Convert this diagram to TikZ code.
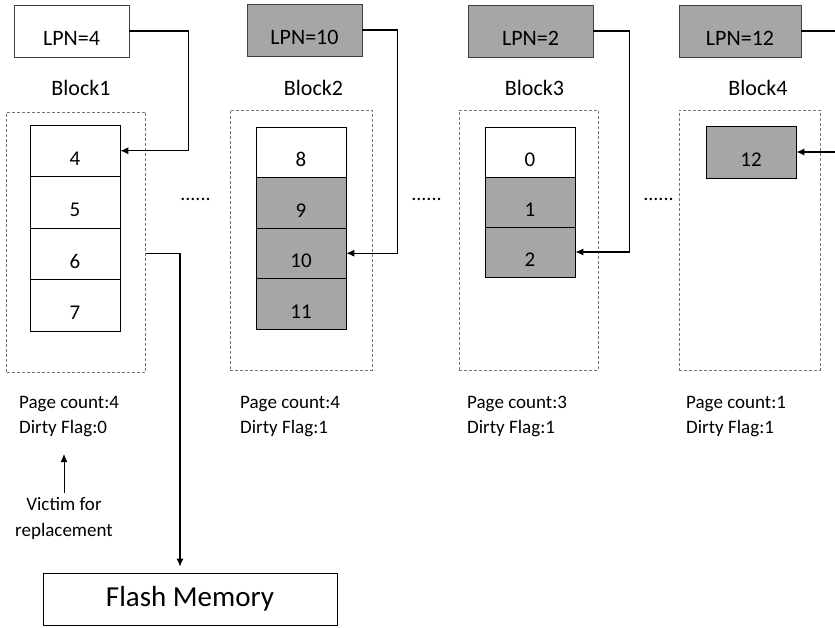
\documentclass[tikz,border=0pt]{standalone}
\usepackage{fontspec}
\setmainfont{Carlito}
\usetikzlibrary{arrows.meta,positioning}
\definecolor{cellgray}{RGB}{166,166,166}
\tikzset{
	lpnbox/.style={draw=black!75,line width=0.8pt,minimum height=52pt,inner sep=0pt,
		font=\fontsize{22}{26}\selectfont,text height=28pt,text depth=0pt},
	frame/.style={draw=black!55,dashed,dash pattern=on 3pt off 2pt,line width=0.8pt,
		minimum width=139pt,minimum height=260pt,inner sep=0pt},
	cell/.style={draw,line width=0.8pt,minimum width=90pt,inner sep=0pt,
		font=\fontsize{21}{25}\selectfont,text height=29pt,text depth=0pt},
	blklabel/.style={font=\fontsize{22}{26}\selectfont,anchor=base,inner sep=0pt},
	info/.style={font=\fontsize{19}{25}\selectfont,align=left,anchor=north west,inner sep=0pt},
	link/.style={->,line width=1.1pt}
}
\begin{document}
\begin{tikzpicture}[>={Latex[length=8pt,width=7pt]},x=1pt,y=-1pt]
	\clip (0,0) rectangle (835,627);
	% logical pages
	\node[lpnbox,minimum width=115pt] (lpn1) at (71.5,31) {LPN=4};
	\node[lpnbox,minimum width=115pt,fill=cellgray] (lpn2) at (304.5,30) {LPN=10};
	\node[lpnbox,minimum width=125pt,fill=cellgray] (lpn3) at (530.5,31) {LPN=2};
	\node[lpnbox,minimum width=122pt,fill=cellgray] (lpn4) at (740,31) {LPN=12};
	% blocks
	\node[blklabel] (blk1) at (81,95) {Block1};
	\node[blklabel] (blk2) at (313.5,95) {Block2};
	\node[blklabel] (blk3) at (534.5,95) {Block3};
	\node[blklabel] (blk4) at (758,95) {Block4};
	\node[frame] (frame1) at (76,242) {};
	\node[frame,minimum width=142pt] (frame2) at (301,240) {};
	\node[frame] (frame3) at (528.5,240) {};
	\node[frame,minimum width=141pt] (frame4) at (749.5,240) {};
	% pages in the blocks
	\foreach \n [count=\i from 0] in {4,5,6,7}
		\node[cell,minimum height=51.5pt] (b1c\n) at (75,{150.75+51.5*\i}) {\n};
	\foreach \n/\f [count=\i from 0] in {8/white,9/cellgray,10/cellgray,11/cellgray}
		\node[cell,minimum height=50.5pt,fill=\f] (b2c\n) at (301,{152.25+50.5*\i}) {\n};
	\foreach \n/\f [count=\i from 0] in {0/white,1/cellgray,2/cellgray}
		\node[cell,minimum height=50pt,fill=\f] (b3c\n) at (530,{152+50*\i}) {\n};
	\node[cell,minimum height=52pt,fill=cellgray] (b4c12) at (751,152) {12};
	% dots
	\node[blklabel,font=\fontsize{20}{24}\selectfont] (dots1) at (195.5,200) {......};
	\node[blklabel,font=\fontsize{20}{24}\selectfont] (dots2) at (426.5,200) {......};
	\node[blklabel,font=\fontsize{20}{24}\selectfont] (dots3) at (658.5,200) {......};
	% mapping
	\draw[link] (lpn1.east) -- ++(59,0) |- (b1c4.east);
	\draw[link] (lpn2.east) -- ++(35,0) |- (b2c10.east);
	\draw[link] (lpn3.east) -- ++(36,0) |- (b3c2.east);
	\draw[link] (lpn4.east) -- ++(50,0) |- (b4c12.east);
	% block info
	\node[info] (pc1) at (19,396) {Page count:4\\Dirty Flag:0};
	\node[info] (pc2) at (240,396) {Page count:4\\Dirty Flag:1};
	\node[info] (pc3) at (467,396) {Page count:3\\Dirty Flag:1};
	\node[info] (pc4) at (686,396) {Page count:1\\Dirty Flag:1};
	\node[font=\fontsize{19}{26}\selectfont,align=center,inner sep=0pt,anchor=north] (victim) at (64,497) {Victim for\\replacement};
	\draw[->,line width=0.9pt] ([yshift=4pt]victim.north) -- ++(0,-39);
	% flash
	\node[draw,line width=0.8pt,minimum width=294pt,minimum height=52pt,inner sep=0pt,
		font=\fontsize{29}{34}\selectfont] (flash) at (190,599) {Flash Memory};
	\coordinate (drop) at (180,0);
	\draw[link,shorten >=6pt] (frame1.east |- b1c6) -| (flash.north -| drop);
\end{tikzpicture}
\end{document}
